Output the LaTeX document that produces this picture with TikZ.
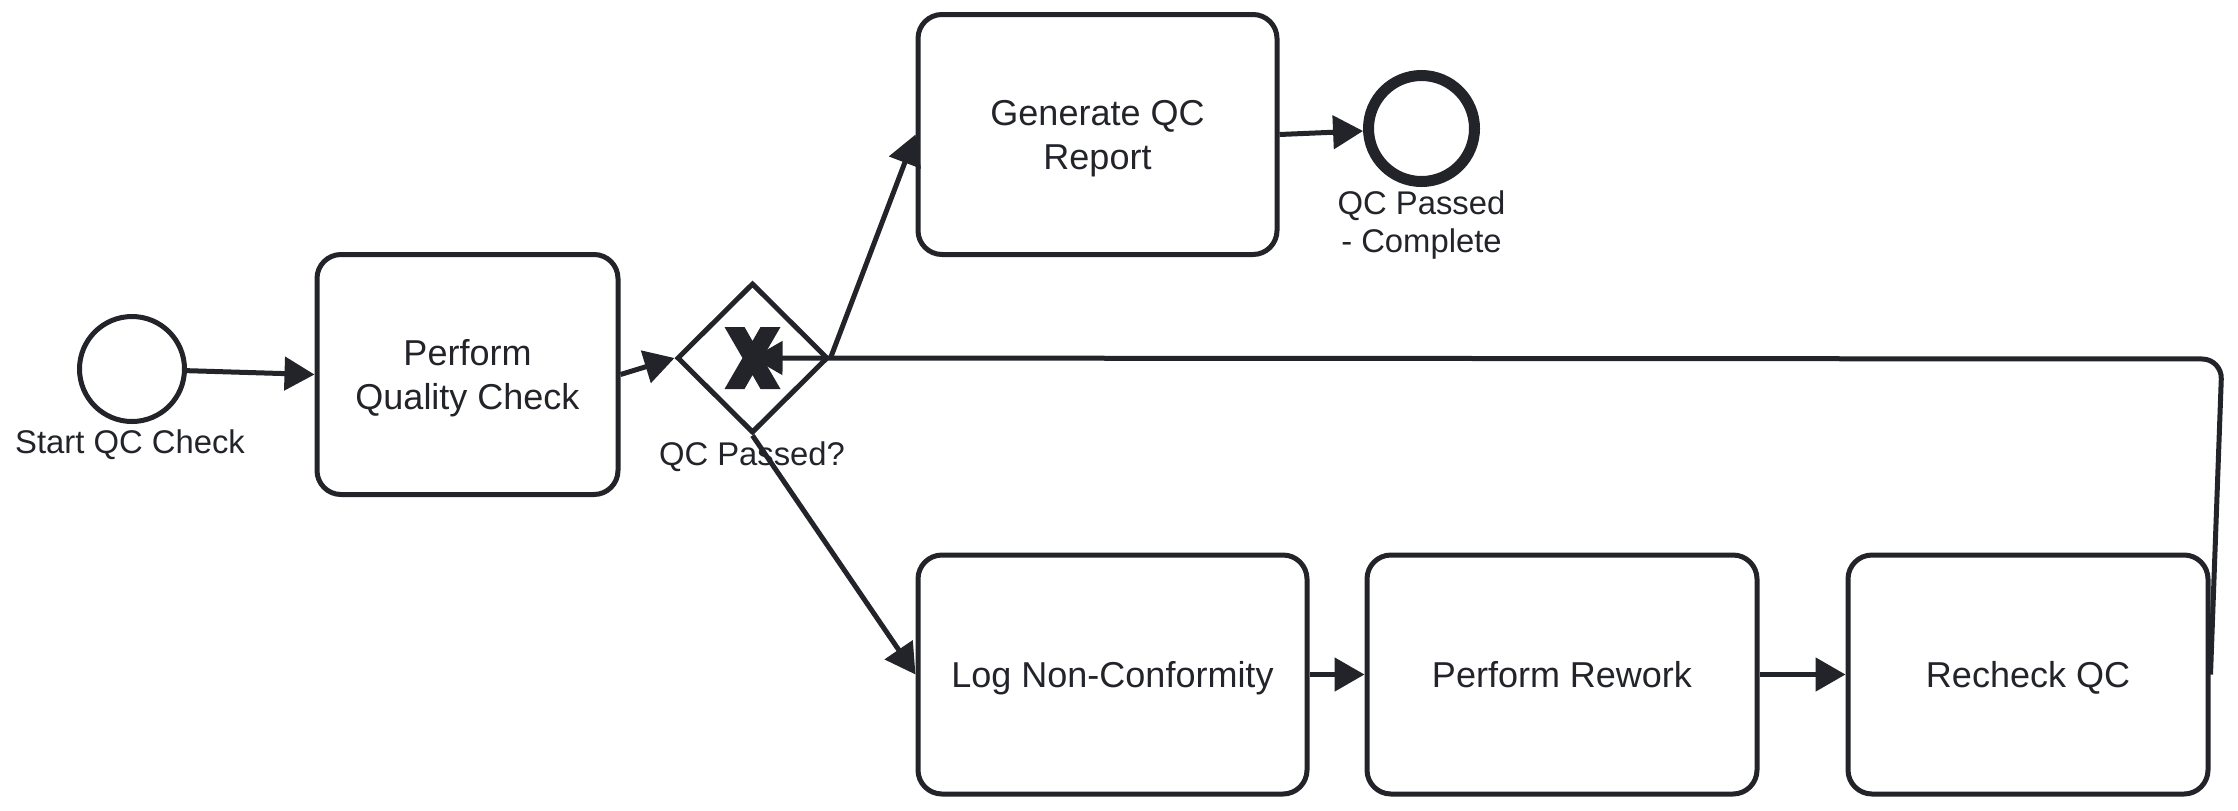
\documentclass[tikz,border=0pt]{standalone}
\usepackage{fontspec}
\setmainfont{Liberation Sans}
\usetikzlibrary{shapes.geometric,arrows.meta}
\definecolor{ink}{RGB}{34,36,42}

\begin{document}
\begin{tikzpicture}
      [x=0.5pt,y=-0.5pt,
       task/.style={draw=ink,line width=2.5pt,rounded corners=12pt,fill=white,
         minimum height=120pt,align=center,text=ink,text depth=0pt,
         font=\fontsize{18}{22}\selectfont},
       event/.style={circle,draw=ink,line width=2.5pt,minimum size=52.5pt,inner sep=0pt},
       lbl/.style={text=ink,align=center,font=\fontsize{16.4}{19.3}\selectfont},
       flow/.style={draw=ink,line width=2.5pt,-{Triangle[length=15pt,width=16.5pt]}}]
      \useasboundingbox (0,0) rectangle (2238,810);

      \node [event] (start) at (132,369) {};
      \node [lbl] (startlbl) at (130,445) {Start QC Check};
      \node [task,minimum width=150.5pt] (perform) at (467.5,374.5) {Perform\\Quality Check};
      \node [diamond,draw=ink,line width=2.5pt,minimum width=75.5pt,minimum height=75pt,
             inner sep=0pt,aspect=1] (gw) at (752.5,358) {};
      \node [lbl] (gwlbl) at (752,457) {QC Passed?};
      \node [task,minimum width=179.5pt] (gen) at (1097.5,134.5) {Generate QC\\Report};
      \node [event,line width=5.5pt,minimum size=53pt] (done) at (1421.5,128.5) {};
      \node [lbl] (donelbl) at (1421.5,225) {QC Passed\\- Complete};
      \node [task,minimum width=194.5pt,minimum height=119.5pt] (log) at (1112.5,674.5) {Log Non-Conformity};
      \node [task,minimum width=195pt,minimum height=119.5pt] (rework) at (1562,674.5) {Perform Rework};
      \node [task,minimum width=180pt,minimum height=119.5pt] (recheck) at (2028,674.5) {Recheck QC};
      \coordinate (turn) at (2222,359);

      % exclusive gateway marker
      \begin{scope}[shift={(gw.center)}]
        \fill [ink] (-28,-31) -- (-8,-31) -- (0,-17) -- (8,-31) -- (28,-31) -- (10,0)
          -- (28,31) -- (8,31) -- (0,17) -- (-8,31) -- (-28,31) -- (-10,0) -- cycle;
      \end{scope}

      \foreach \from/\to in {start/perform.west, perform.east/gw.west, gw.east/gen.west,
        gw.south/log.west, gen.east/done, log/rework, rework/recheck}
      \draw [flow] (\from) -- (\to);

      \draw [flow,rounded corners=10pt] (recheck.east) -- (turn) -- (gw.center);
    \end{tikzpicture}
\end{document}
